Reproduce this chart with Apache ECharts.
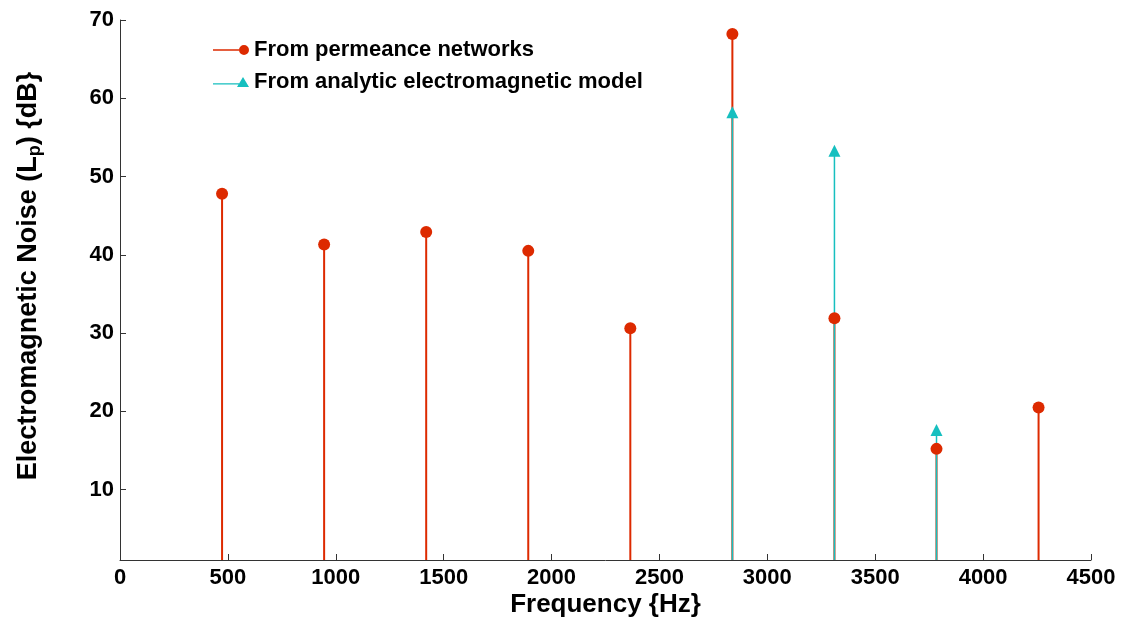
<!DOCTYPE html>
<html>
<head>
<meta charset="utf-8">
<style>
body { margin: 0; background: #fff; }
#chart { width: 1124px; height: 617px; }
</style>
<script src="https://cdn.jsdelivr.net/npm/echarts@6/dist/echarts.min.js"></script>
</head>
<body>
<div id="chart"></div>
<script>
// harmonics of the ~473 Hz fundamental
const freqPermeance = [473, 946, 1419, 1892, 2365, 2838, 3311, 3784, 4257];
const noisePermeance = [47.8, 41.3, 42.9, 40.5, 30.6, 68.2, 31.9, 15.2, 20.5];
const freqAnalytic = [2838, 3311, 3784];
const noiseAnalytic = [58.2, 53.3, 17.6];
const yTicks = [10, 20, 30, 40, 50, 60, 70];

const RED = '#dd2a00';
const CYAN = '#16bfbf';
const FONT = 'Liberation Sans, Arial, sans-serif';

const permeancePts = freqPermeance.map((f, i) => [f, noisePermeance[i]]);
const analyticPts = freqAnalytic.map((f, i) => [f, noiseAnalytic[i]]);

// vertical stem from the bottom of the plot up to the value
function stem(color, width) {
  return function (params, api) {
    const top = api.coord([api.value(0), api.value(1)]);
    const bottom = params.coordSys.y + params.coordSys.height;
    return {
      type: 'line',
      shape: { x1: top[0], y1: top[1], x2: top[0], y2: bottom },
      style: { stroke: color, lineWidth: width }
    };
  };
}

const chart = echarts.init(document.getElementById('chart'), null, { renderer: 'canvas' });
chart.setOption({
  animation: false,
  backgroundColor: '#fff',
  grid: { left: 120, right: 33, top: 20, bottom: 57, outerBoundsMode: 'none', containLabel: false },
  legend: {
    orient: 'vertical',
    left: 208,
    top: 34,
    itemWidth: 36,
    itemHeight: 10,
    itemGap: 10,
    textStyle: { fontFamily: FONT, fontSize: 22, fontWeight: 'bold', color: '#000' },
    data: [
      { name: 'From permeance networks',
        icon: 'path://M0,4.2 L26,4.2 L26,5.8 L0,5.8 Z M31,0 A5,5 0 1 1 30.99,0 Z' },
      { name: 'From analytic electromagnetic model',
        icon: 'path://M0,6.3 L26,6.3 L26,7.5 L0,7.5 Z M30,0 L36,10 L24,10 Z' }
    ]
  },
  xAxis: {
    type: 'value',
    min: 0, max: 4500, interval: 500,
    name: 'Frequency {Hz}',
    nameLocation: 'middle',
    nameGap: 32,
    nameMoveOverlap: false,
    nameTextStyle: { fontFamily: FONT, fontSize: 26, fontWeight: 'bold', color: '#000' },
    axisLine: { lineStyle: { color: '#333', width: 1 } },
    axisTick: { inside: true, length: 6, lineStyle: { color: '#333' } },
    axisLabel: { fontFamily: FONT, fontSize: 22, fontWeight: 'bold', color: '#000', margin: 7,
      formatter: v => String(v) },
    splitLine: { show: false }
  },
  yAxis: {
    type: 'value',
    min: 1, max: 70,
    name: 'Electromagnetic Noise (L{sub|p}) {dB}',
    nameLocation: 'middle',
    nameGap: 76,
    nameMoveOverlap: false,
    nameTextStyle: {
      fontFamily: FONT, fontSize: 27, fontWeight: 'bold', color: '#000',
      padding: [0, 0, 0, 28],
      rich: {
        sub: { fontFamily: FONT, fontSize: 18, fontWeight: 'bold', color: '#000', verticalAlign: 'bottom', padding: [12, 0, 0, 0] }
      }
    },
    axisLine: { show: true, lineStyle: { color: '#333', width: 1 } },
    axisTick: { show: true, inside: true, length: 6, customValues: yTicks, lineStyle: { color: '#333' } },
    axisLabel: { fontFamily: FONT, fontSize: 22, fontWeight: 'bold', color: '#000', margin: 6, customValues: yTicks },
    splitLine: { show: false }
  },
  series: [
    { name: 'permeance-stems', type: 'custom', data: permeancePts, renderItem: stem(RED, 2), z: 2, silent: true },
    { name: 'analytic-stems', type: 'custom', data: analyticPts, renderItem: stem(CYAN, 1.5), z: 2, silent: true },
    { name: 'From permeance networks', type: 'scatter', data: permeancePts,
      symbol: 'circle', symbolSize: 12, itemStyle: { color: RED, opacity: 1 }, z: 3 },
    { name: 'From analytic electromagnetic model', type: 'scatter', data: analyticPts,
      symbol: 'triangle', symbolSize: 12, itemStyle: { color: CYAN, opacity: 1 }, z: 4 }
  ]
});
</script>
</body>
</html>
